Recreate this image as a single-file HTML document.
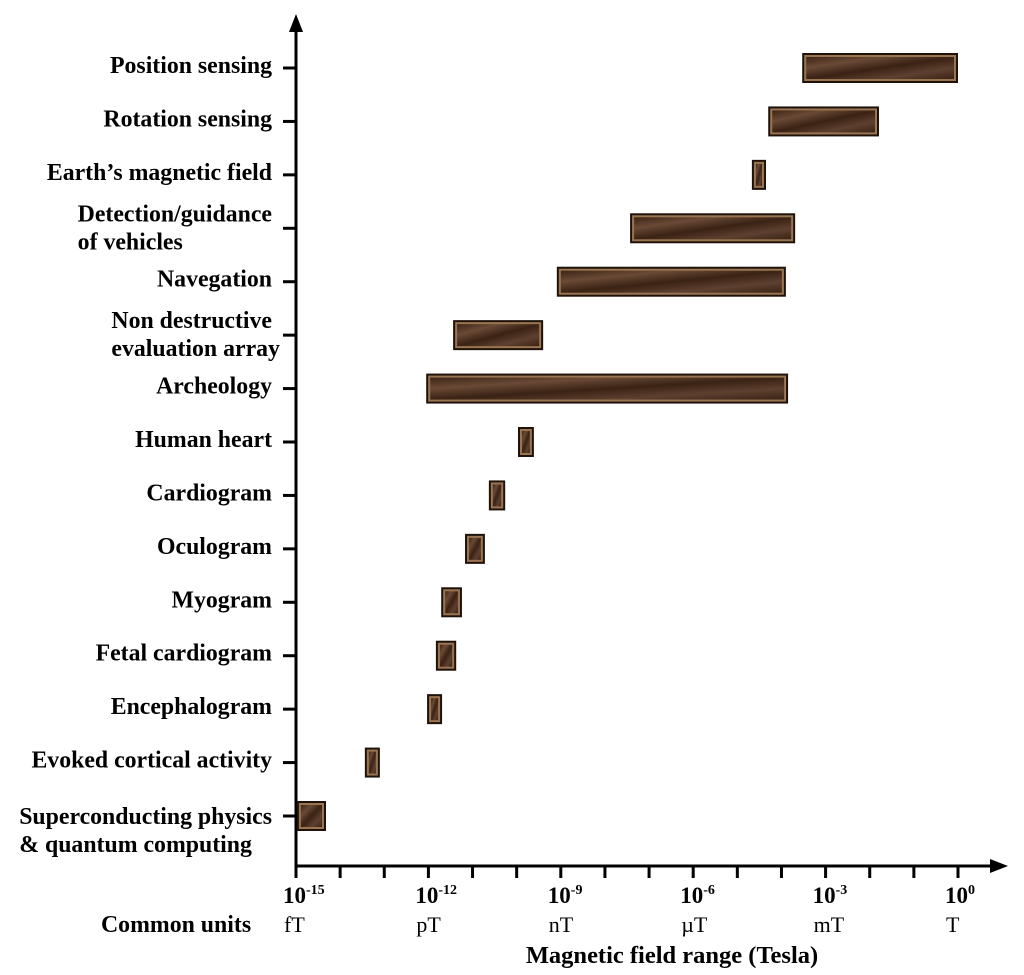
<!DOCTYPE html>
<html><head><meta charset="utf-8"><style>
body{margin:0;background:#fff;}
svg{display:block;font-family:"Liberation Serif",serif;font-weight:bold;}
</style></head><body>
<svg width="1024" height="975" viewBox="0 0 1024 975">
<defs>
<linearGradient id="tex" x1="0" y1="0" x2="1" y2="1">
<stop offset="0" stop-color="#3e2516"/><stop offset="0.25" stop-color="#6a4a36"/>
<stop offset="0.5" stop-color="#3a2214"/><stop offset="0.75" stop-color="#5e4030"/><stop offset="1" stop-color="#3b2416"/>
</linearGradient>
</defs>
<g id="axes"></g>
<g id="bars"></g>
<g id="labels"></g>
</svg>
<script>
const categories=["Position sensing","Rotation sensing","Earth\u2019s magnetic field","Detection/guidance|of vehicles","Navegation","Non destructive|evaluation array","Archeology","Human heart","Cardiogram","Oculogram","Myogram","Fetal cardiogram","Encephalogram","Evoked cortical activity","Superconducting physics|& quantum computing"];
const lowExp=[-3.53,-4.3,-4.67,-7.43,-9.09,-11.44,-12.05,-9.97,-10.63,-11.17,-11.71,-11.83,-12.03,-13.44,-14.98];
const highExp=[0,-1.79,-4.35,-3.69,-3.9,-9.4,-3.85,-9.61,-10.26,-10.72,-11.24,-11.37,-11.69,-13.1,-14.32];
const tickExps=[-15,-12,-9,-6,-3,0];
const unitLabels=["fT","pT","nT","\u00b5T","mT","T"];
const NS="http://www.w3.org/2000/svg";
const x0=296,x1=958,yTop=68,yBot=816;
const FS=23.8;
function xs(e){return x0+(e+15)/15*(x1-x0);}
function ys(i){return yTop+i*(yBot-yTop)/(categories.length-1);}
function mk(tag,attrs,parent){const el=document.createElementNS(NS,tag);for(const k in attrs)el.setAttribute(k,attrs[k]);parent.appendChild(el);return el;}
const axes=document.getElementById('axes'),bars=document.getElementById('bars'),labels=document.getElementById('labels');
let a=mk('line',{x1:296,y1:866,x2:296,y2:28,stroke:'#000','stroke-width':3},axes);

a=mk('polygon',{points:'296,14 289,32 303,32',fill:'#000'},axes);

a=mk('line',{x1:295,y1:866,x2:995,y2:866,stroke:'#000','stroke-width':3},axes);

a=mk('polygon',{points:'1008,866 990,859 990,873',fill:'#000'},axes);

for(let e=-15;e<=0;e++){
 const t=mk('line',{x1:xs(e),y1:866,x2:xs(e),y2:878,stroke:'#000','stroke-width':3},axes);
 
}
tickExps.forEach((e,i)=>{
 const t=mk('text',{x:xs(e)-13,y:903,'font-size':23},labels);
 
 t.appendChild(document.createTextNode('10'));
 const s=mk('tspan',{dy:-9,'font-size':14},t);s.textContent=String(e);
 const u=mk('text',{x:xs(e)-12,y:932,'font-size':22,'font-weight':'normal'},labels);
 
 u.textContent=unitLabels[i];
});
let t=mk('text',{x:101,y:932,'font-size':FS},labels);

t.textContent='Common units';
t=mk('text',{x:672,y:963,'font-size':24.5,'text-anchor':'middle'},labels);

t.textContent='Magnetic field range (Tesla)';
categories.forEach((c,i)=>{
 const y=ys(i);
 const tk=mk('line',{x1:283,y1:y,x2:296,y2:y,stroke:'#000','stroke-width':3},axes);
 
 const parts=c.split('|');
 if(parts.length===1){
  const l=mk('text',{x:272,y:y+5,'font-size':FS,'text-anchor':'end'},labels);
  
  l.textContent=parts[0];
 } else {
  const last=i===categories.length-1;
  const d0=last?8:-7, d1=last?36:21;
  const l=mk('text',{x:272,y:y+d0,'font-size':FS,'text-anchor':'end'},labels);
  
  l.textContent=parts[0];
  const w=l.getComputedTextLength();
  const l2=mk('text',{x:272-w,y:y+d1,'font-size':FS},labels);
  
  l2.textContent=parts[1];
 }
 const xa=xs(lowExp[i]),xb=xs(highExp[i]);
 const g=mk('g',{},bars);
 
 mk('rect',{x:xa,y:y-15,width:xb-xa,height:30,fill:'#1e120a'},g);
 mk('rect',{x:xa+2,y:y-13,width:xb-xa-4,height:26,fill:'#9a7552'},g);
 mk('rect',{x:xa+4,y:y-11,width:xb-xa-8,height:22,fill:'url(#tex)'},g);
});
</script>
</body></html>
